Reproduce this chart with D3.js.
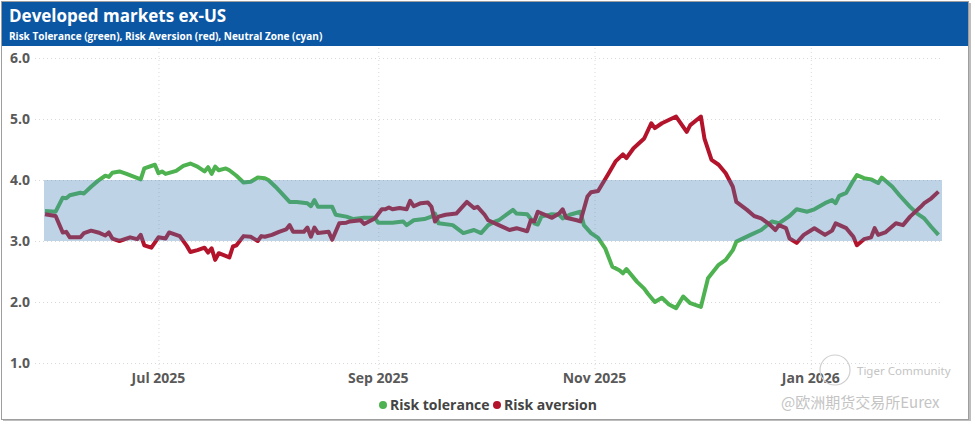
<!DOCTYPE html>
<html>
<head>
<meta charset="utf-8">
<script src="https://cdn.jsdelivr.net/npm/d3@7"></script>
<style>
  body { margin: 0; background: #fff; }
  svg { display: block; font-family: "Open Sans", "Noto Sans", sans-serif; }
</style>
</head>
<body>
<svg id="chart" width="975" height="424"></svg>
<script>
/* Developed markets ex-US: risk tolerance vs risk aversion,
   values */

const title = 'Developed markets ex-US';
const subtitle = 'Risk Tolerance (green), Risk Aversion (red), Neutral Zone (cyan)';

const yTicks = [1, 2, 3, 4, 5, 6];
const xTicks = ['2025-07-01', '2025-09-01', '2025-11-01', '2026-01-01'];
const neutralZone = [3, 4];
const legendNames = ['Risk tolerance', 'Risk aversion'];

const riskTolerance = [
    ['2025-05-30', 3.49], ['2025-06-02', 3.48], ['2025-06-04', 3.71], ['2025-06-05', 3.70],
    ['2025-06-06', 3.75], ['2025-06-09', 3.79], ['2025-06-10', 3.78], ['2025-06-12', 3.89],
    ['2025-06-14', 3.99], ['2025-06-16', 4.07], ['2025-06-17', 4.05], ['2025-06-18', 4.12],
    ['2025-06-20', 4.14], ['2025-06-22', 4.10], ['2025-06-26', 4.01], ['2025-06-27', 4.19],
    ['2025-06-30', 4.25], ['2025-07-01', 4.11], ['2025-07-02', 4.14], ['2025-07-03', 4.10],
    ['2025-07-06', 4.15], ['2025-07-08', 4.23], ['2025-07-10', 4.27], ['2025-07-12', 4.22],
    ['2025-07-14', 4.14], ['2025-07-15', 4.21], ['2025-07-16', 4.10], ['2025-07-17', 4.22],
    ['2025-07-18', 4.16], ['2025-07-20', 4.19], ['2025-07-21', 4.16], ['2025-07-23', 4.07],
    ['2025-07-25', 3.96], ['2025-07-27', 3.97], ['2025-07-29', 4.04], ['2025-07-31', 4.03],
    ['2025-08-01', 4.00], ['2025-08-03', 3.89], ['2025-08-07', 3.64], ['2025-08-09', 3.64],
    ['2025-08-12', 3.62], ['2025-08-13', 3.57], ['2025-08-14', 3.67], ['2025-08-15', 3.56],
    ['2025-08-19', 3.56], ['2025-08-20', 3.43], ['2025-08-23', 3.40], ['2025-08-25', 3.36],
    ['2025-08-28', 3.38], ['2025-08-31', 3.38], ['2025-09-01', 3.30], ['2025-09-05', 3.30],
    ['2025-09-08', 3.32], ['2025-09-09', 3.26], ['2025-09-11', 3.34], ['2025-09-14', 3.36],
    ['2025-09-16', 3.40], ['2025-09-17', 3.45], ['2025-09-18', 3.29], ['2025-09-22', 3.26],
    ['2025-09-25', 3.13], ['2025-09-28', 3.18], ['2025-09-30', 3.13], ['2025-10-02', 3.26],
    ['2025-10-04', 3.32], ['2025-10-05', 3.34], ['2025-10-09', 3.51], ['2025-10-10', 3.45],
    ['2025-10-13', 3.44], ['2025-10-15', 3.29], ['2025-10-16', 3.27], ['2025-10-17', 3.40],
    ['2025-10-20', 3.44], ['2025-10-22', 3.43], ['2025-10-23', 3.37], ['2025-10-25', 3.43],
    ['2025-10-28', 3.48], ['2025-10-29', 3.26], ['2025-10-31', 3.13], ['2025-11-02', 3.05],
    ['2025-11-04', 2.88], ['2025-11-06', 2.58], ['2025-11-08', 2.52], ['2025-11-09', 2.47],
    ['2025-11-10', 2.54], ['2025-11-13', 2.33], ['2025-11-15', 2.22], ['2025-11-16', 2.14],
    ['2025-11-18', 2.00], ['2025-11-20', 2.07], ['2025-11-22', 1.96], ['2025-11-24', 1.90],
    ['2025-11-26', 2.09], ['2025-11-28', 1.98], ['2025-12-01', 1.92], ['2025-12-03', 2.39],
    ['2025-12-06', 2.61], ['2025-12-08', 2.69], ['2025-12-10', 2.85], ['2025-12-11', 2.99],
    ['2025-12-15', 3.10], ['2025-12-18', 3.18], ['2025-12-21', 3.32], ['2025-12-23', 3.29],
    ['2025-12-26', 3.41], ['2025-12-28', 3.52], ['2025-12-31', 3.48], ['2026-01-02', 3.52],
    ['2026-01-05', 3.62], ['2026-01-07', 3.67], ['2026-01-08', 3.62], ['2026-01-09', 3.74],
    ['2026-01-11', 3.79], ['2026-01-13', 3.99], ['2026-01-14', 4.08], ['2026-01-16', 4.03],
    ['2026-01-18', 4.01], ['2026-01-20', 3.95], ['2026-01-21', 4.04], ['2026-01-24', 3.89],
    ['2026-01-26', 3.75], ['2026-01-29', 3.56], ['2026-01-31', 3.45], ['2026-02-02', 3.37],
    ['2026-02-04', 3.23], ['2026-02-06', 3.10]
];

const riskAversion = [
    ['2025-05-30', 3.44], ['2025-06-02', 3.41], ['2025-06-04', 3.14], ['2025-06-05', 3.15],
    ['2025-06-06', 3.06], ['2025-06-09', 3.06], ['2025-06-10', 3.13], ['2025-06-12', 3.17],
    ['2025-06-14', 3.14], ['2025-06-16', 3.09], ['2025-06-17', 3.14], ['2025-06-18', 3.04],
    ['2025-06-20', 3.00], ['2025-06-23', 3.06], ['2025-06-25', 3.03], ['2025-06-26', 3.10],
    ['2025-06-27', 2.93], ['2025-06-29', 2.89], ['2025-07-01', 3.06], ['2025-07-03', 3.04],
    ['2025-07-04', 3.14], ['2025-07-07', 3.08], ['2025-07-09', 2.92], ['2025-07-10', 2.82],
    ['2025-07-12', 2.85], ['2025-07-14', 2.89], ['2025-07-15', 2.81], ['2025-07-16', 2.88],
    ['2025-07-17', 2.69], ['2025-07-18', 2.80], ['2025-07-21', 2.73], ['2025-07-22', 2.91],
    ['2025-07-23', 2.93], ['2025-07-25', 3.08], ['2025-07-27', 3.07], ['2025-07-29', 3.00],
    ['2025-07-30', 3.08], ['2025-07-31', 3.07], ['2025-08-02', 3.10], ['2025-08-04', 3.15],
    ['2025-08-06', 3.19], ['2025-08-07', 3.26], ['2025-08-08', 3.15], ['2025-08-11', 3.15],
    ['2025-08-12', 3.22], ['2025-08-13', 3.07], ['2025-08-14', 3.22], ['2025-08-15', 3.13],
    ['2025-08-18', 3.15], ['2025-08-19', 3.02], ['2025-08-21', 3.29], ['2025-08-23', 3.30],
    ['2025-08-24', 3.32], ['2025-08-27', 3.34], ['2025-08-28', 3.28], ['2025-08-31', 3.37],
    ['2025-09-02', 3.52], ['2025-09-03', 3.52], ['2025-09-04', 3.55], ['2025-09-05', 3.52],
    ['2025-09-07', 3.54], ['2025-09-09', 3.52], ['2025-09-10', 3.66], ['2025-09-11', 3.57],
    ['2025-09-13', 3.62], ['2025-09-15', 3.63], ['2025-09-16', 3.56], ['2025-09-17', 3.32],
    ['2025-09-18', 3.40], ['2025-09-20', 3.43], ['2025-09-23', 3.45], ['2025-09-26', 3.64],
    ['2025-09-28', 3.54], ['2025-09-29', 3.56], ['2025-10-01', 3.43], ['2025-10-02', 3.34],
    ['2025-10-05', 3.26], ['2025-10-08', 3.18], ['2025-10-10', 3.21], ['2025-10-13', 3.16],
    ['2025-10-14', 3.34], ['2025-10-15', 3.32], ['2025-10-16', 3.48], ['2025-10-20', 3.38],
    ['2025-10-22', 3.45], ['2025-10-23', 3.52], ['2025-10-24', 3.38], ['2025-10-27', 3.34],
    ['2025-10-28', 3.32], ['2025-10-30', 3.73], ['2025-10-31', 3.80], ['2025-11-02', 3.82],
    ['2025-11-05', 4.11], ['2025-11-07', 4.31], ['2025-11-09', 4.42], ['2025-11-10', 4.36],
    ['2025-11-12', 4.52], ['2025-11-15', 4.68], ['2025-11-17', 4.93], ['2025-11-18', 4.85],
    ['2025-11-20', 4.93], ['2025-11-24', 5.04], ['2025-11-27', 4.79], ['2025-11-28', 4.90],
    ['2025-12-01', 5.04], ['2025-12-02', 4.68], ['2025-12-04', 4.33], ['2025-12-06', 4.25],
    ['2025-12-08', 4.11], ['2025-12-10', 3.89], ['2025-12-11', 3.64], ['2025-12-14', 3.51],
    ['2025-12-16', 3.41], ['2025-12-18', 3.37], ['2025-12-20', 3.29], ['2025-12-22', 3.18],
    ['2025-12-23', 3.26], ['2025-12-25', 3.21], ['2025-12-26', 3.04], ['2025-12-28', 2.97],
    ['2025-12-30', 3.10], ['2026-01-02', 3.21], ['2026-01-05', 3.10], ['2026-01-07', 3.17],
    ['2026-01-08', 3.29], ['2026-01-11', 3.21], ['2026-01-13', 3.07], ['2026-01-14', 2.93],
    ['2026-01-16', 3.03], ['2026-01-18', 3.06], ['2026-01-19', 3.21], ['2026-01-20', 3.10],
    ['2026-01-22', 3.14], ['2026-01-25', 3.29], ['2026-01-27', 3.26], ['2026-01-29', 3.40],
    ['2026-02-01', 3.56], ['2026-02-02', 3.62], ['2026-02-04', 3.70], ['2026-02-06', 3.81]
];

const colors = {
    header: '#0b57a4',
    tolerance: '#4db24f',
    aversion: '#b3142c',
    band: 'rgba(70,130,180,0.35)',
    grid: '#d9d9d9',
    text: '#595959'
};

const W = 975, H = 424;
const plot = { left: 45, right: 942, top: 58, bottom: 363 };

const parse = d3.utcParse('%Y-%m-%d');
const tol = riskTolerance.map(([d, v]) => ({ date: parse(d), value: v }));
const av = riskAversion.map(([d, v]) => ({ date: parse(d), value: v }));

const x = d3.scaleUtc()
    .domain([parse('2025-05-30'), parse('2026-02-07')])
    .range([plot.left, plot.right]);
const y = d3.scaleLinear()
    .domain([1, 6])
    .range([plot.bottom, plot.top]);

const svg = d3.select('#chart');

// frame with a soft shadow on the right and bottom
svg.append('rect').attr('x', 3).attr('y', 3).attr('width', W - 7).attr('height', H - 6)
    .attr('fill', '#bdbdbd');
svg.append('rect').attr('x', 1.5).attr('y', 1.5).attr('width', W - 8).attr('height', H - 6)
    .attr('fill', '#fff').attr('stroke', '#9e9e9e');

// header
svg.append('rect').attr('x', 2).attr('y', 2).attr('width', W - 9).attr('height', 44)
    .attr('fill', colors.header);
svg.append('text').attr('x', 9).attr('y', 22)
    .attr('fill', '#fff').attr('font-size', 17).attr('font-weight', 700)
    .text(title);
svg.append('text').attr('x', 9).attr('y', 40)
    .attr('fill', '#fff').attr('font-size', 10).attr('font-weight', 700)
    .text(subtitle);

// y grid + labels
const yAxis = svg.append('g').attr('transform', `translate(${plot.left - 10},0)`)
    .call(d3.axisRight(y).tickValues(yTicks).tickSize(plot.right - plot.left + 10).tickFormat(''));
yAxis.select('.domain').remove();
yAxis.selectAll('line').attr('stroke', colors.grid).attr('stroke-dasharray', '1,3');

svg.append('g').selectAll('text').data(yTicks).join('text')
    .attr('x', 30).attr('y', d => y(d)).attr('dy', '0.35em')
    .attr('text-anchor', 'end').attr('fill', colors.text)
    .attr('font-size', 14).attr('font-weight', 700)
    .text(d => d3.format('.1f')(d));

// x grid + labels
const xDates = xTicks.map(parse);
const xAxis = svg.append('g').attr('transform', `translate(0,${plot.top - 10})`)
    .call(d3.axisBottom(x).tickValues(xDates).tickSize(plot.bottom - plot.top + 18).tickFormat(''));
xAxis.select('.domain').remove();
xAxis.selectAll('line').attr('stroke', colors.grid).attr('stroke-dasharray', '1,3');

svg.append('g').selectAll('text').data(xDates).join('text')
    .attr('x', d => x(d)).attr('y', 383)
    .attr('text-anchor', 'middle').attr('fill', colors.text)
    .attr('font-size', 14).attr('font-weight', 700)
    .text(d3.utcFormat('%b %Y'));

// lines
const line = d3.line().x(d => x(d.date)).y(d => y(d.value)).curve(d3.curveLinear);
svg.append('path').datum(tol)
    .attr('fill', 'none').attr('stroke', colors.tolerance)
    .attr('stroke-width', 4).attr('stroke-linejoin', 'round')
    .attr('d', line);
svg.append('path').datum(av)
    .attr('fill', 'none').attr('stroke', colors.aversion)
    .attr('stroke-width', 4).attr('stroke-linejoin', 'round')
    .attr('d', line);

// neutral zone sits on top of the lines, translucent
svg.append('rect')
    .attr('x', plot.left - 1).attr('width', plot.right - plot.left + 1)
    .attr('y', y(neutralZone[1])).attr('height', y(neutralZone[0]) - y(neutralZone[1]))
    .attr('fill', colors.band);

// legend
const legend = svg.append('g').attr('font-size', 14).attr('font-weight', 700);
const legendColors = [colors.tolerance, colors.aversion];
const legendX = [383, 497];
legendNames.forEach((name, i) => {
    legend.append('circle').attr('cx', legendX[i]).attr('cy', 405).attr('r', 4)
        .attr('fill', legendColors[i]);
    legend.append('text').attr('x', legendX[i] + 7).attr('y', 410)
        .attr('fill', '#444').text(name);
});

// watermark
const wm = svg.append('g').attr('fill', '#c4c4c4');
wm.append('circle').attr('cx', 835).attr('cy', 370).attr('r', 15)
    .attr('fill', 'none').attr('stroke', '#cfcfcf').attr('stroke-width', 1.2);
wm.append('text').attr('x', 857).attr('y', 375).attr('font-size', 11.5)
    .attr('font-family', '"Noto Sans", sans-serif').text('Tiger Community');
wm.append('text').attr('x', 781).attr('y', 408).attr('font-size', 15)
    .attr('font-family', '"Noto Sans CJK SC", sans-serif').text('@欧洲期货交易所Eurex');
</script>
</body>
</html>
